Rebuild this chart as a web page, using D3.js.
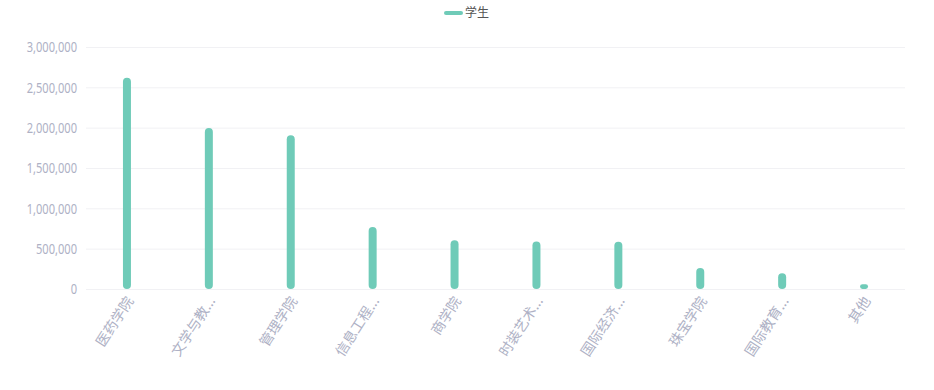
<!DOCTYPE html>
<html>
<head>
<meta charset="utf-8">
<script src="https://cdn.jsdelivr.net/npm/d3@7"></script>
<style>
  body { margin: 0; background: #fff; }
  svg { display: block; }
  .axis-y text { font-family: "Noto Sans", sans-serif; font-size: 15px; fill: #aeb1c5; }
  .axis-x text { font-family: "Noto Sans CJK SC", sans-serif; font-size: 14px; fill: #aeb1c5; }
  .legend text { font-family: "Noto Sans CJK SC", sans-serif; font-size: 12px; fill: #555; }
</style>
</head>
<body>
<svg width="934" height="390"></svg>
<script>
// data
const categories = ['医药学院', '文学与教育学院', '管理学院', '信息工程学院', '商学院', '时装艺术学院', '国际经济学院', '珠宝学院', '国际教育学院', '其他'];
const students = [2620000, 1995000, 1905000, 770000, 605000, 590000, 585000, 260000, 195000, 60000];
const yTicks = [0, 500000, 1000000, 1500000, 2000000, 2500000, 3000000];
const seriesName = '学生';
const barColor = '#6fcbb8';

const svg = d3.select('svg'),
    margin = { top: 47, right: 29, bottom: 101, left: 86 },
    width = +svg.attr('width'),
    height = +svg.attr('height');

const x = d3.scaleBand().domain(categories).range([margin.left, width - margin.right]).padding(0);
const y = d3.scaleLinear().domain([0, 3000000]).range([height - margin.bottom, margin.top]);

// grid lines + y labels (the original font is narrow, squeeze it)
const gy = svg.append('g').attr('class', 'axis-y');
gy.selectAll('line').data(yTicks).enter().append('line')
    .attr('x1', margin.left).attr('x2', width - margin.right)
    .attr('y1', d => y(d) + 0.5).attr('y2', d => y(d) + 0.5)
    .attr('stroke', '#f1f1f4').attr('stroke-width', 1);
gy.selectAll('text').data(yTicks).enter().append('text')
    .attr('transform', d => 'translate(' + (margin.left - 9) + ',' + y(d) + ') scale(0.74,1)')
    .attr('dy', '0.35em')
    .attr('text-anchor', 'end')
    .text(d3.format(','));

// bars, rounded at both ends
const bw = 8;
svg.selectAll('.bar').data(categories).enter().append('rect')
    .attr('class', 'bar')
    .attr('x', d => x(d) + x.bandwidth() / 2 - bw / 2)
    .attr('y', (d, i) => y(students[i]))
    .attr('width', bw)
    .attr('height', (d, i) => y(0) - y(students[i]))
    .attr('rx', (d, i) => Math.min(bw / 2, (y(0) - y(students[i])) / 2))
    .attr('fill', barColor);

// x labels, rotated, long names cut to 4 chars
const short = s => s.length > 4 ? s.slice(0, 4) + '...' : s;
svg.append('g').attr('class', 'axis-x')
  .selectAll('text').data(categories).enter().append('text')
    .attr('transform', d => 'translate(' + (x(d) + x.bandwidth() / 2 + 3) + ',' + (y(0) + 9) + ') rotate(-57)')
    .attr('text-anchor', 'end')
    .attr('dy', '0.35em')
    .text(short);

// legend
const lg = svg.append('g').attr('class', 'legend').attr('transform', 'translate(446,13)');
lg.append('line').attr('x1', 0).attr('x2', 15).attr('y1', 0).attr('y2', 0)
    .attr('stroke', barColor).attr('stroke-width', 4).attr('stroke-linecap', 'round');
lg.append('text').attr('x', 19).attr('dy', '0.35em').text(seriesName);
</script>
</body>
</html>
